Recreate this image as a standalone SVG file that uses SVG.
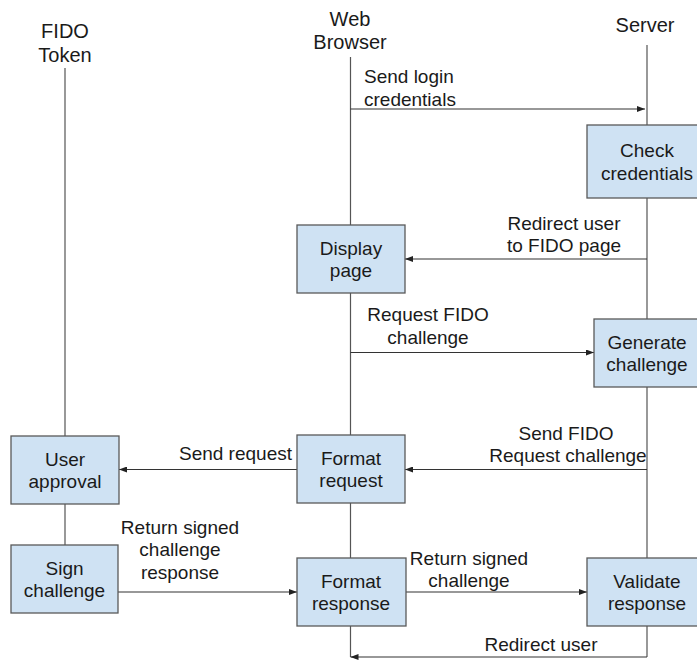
<svg xmlns="http://www.w3.org/2000/svg" width="697" height="662" viewBox="0 0 697 662">
<style>
text{font-family:"Liberation Sans",Arial,sans-serif;font-size:19px;fill:#1a1a1a}
.h{font-size:20px}
.c{text-anchor:middle}
.e{text-anchor:end}
.box{fill:#cfe2f3;stroke:#595959;stroke-width:1.3}
.life{stroke:#555;stroke-width:1.2;fill:none}
.msg{stroke:#333;stroke-width:1.2;fill:none;marker-end:url(#ah)}
</style>
<defs>
<marker id="ah" markerUnits="userSpaceOnUse" markerWidth="8" markerHeight="6" refX="8" refY="3" orient="auto">
<path d="M0,0 L8,3 L0,6 z" fill="#222"/>
</marker>
</defs>
<rect width="697" height="662" fill="#fff"/>
<g id="headers">
<text class="c h" x="65" y="38">FIDO</text>
<text class="c h" x="65" y="62">Token</text>
<text class="c h" x="350" y="26">Web</text>
<text class="c h" x="350" y="49">Browser</text>
<text class="c h" x="645" y="32">Server</text>
</g>
<g id="lifelines">
<path class="life" d="M65,68 V436 M65,504 V545"/>
<path class="life" d="M350.5,57 V225 M350.5,293 V435 M350.5,503 V558 M350.5,626 V657"/>
<path class="life" d="M647,45 V125 M647,198 V319 M647,387 V558 M647,626 V657"/>
</g>
<g id="connectors">
<path class="msg" d="M350.5,109 H645"/>
<text x="364" y="83">Send login</text>
<text x="364" y="105.5">credentials</text>
<path class="msg" d="M647,259 H405"/>
<text class="c" x="564" y="229.5">Redirect user</text>
<text class="c" x="564" y="252">to FIDO page</text>
<path class="msg" d="M350.5,352.5 H594"/>
<text class="c" x="428" y="321">Request FIDO</text>
<text class="c" x="428" y="343.5">challenge</text>
<path class="msg" d="M647,469.5 H405"/>
<text class="c" x="566" y="440">Send FIDO</text>
<text class="c" x="568" y="462">Request challenge</text>
<path class="msg" d="M297,469.5 H119"/>
<text class="e" x="292" y="460">Send request</text>
<path class="msg" d="M118,592 H297"/>
<text class="c" x="180" y="533.5">Return signed</text>
<text class="c" x="180" y="556">challenge</text>
<text class="c" x="180" y="578.5">response</text>
<path class="msg" d="M406,592 H587"/>
<text class="c" x="469" y="565">Return signed</text>
<text class="c" x="469" y="587">challenge</text>
<path class="msg" d="M647,657 H350.5"/>
<text class="c" x="541" y="650.5">Redirect user</text>
</g>
<g id="check-credentials">
<rect class="box" x="587" y="125" width="120" height="73"/>
<text class="c" x="647" y="157">Check</text>
<text class="c" x="647" y="179.5">credentials</text>
</g>
<g id="display-page">
<rect class="box" x="297" y="225" width="108" height="68"/>
<text class="c" x="351" y="254.5">Display</text>
<text class="c" x="351" y="277">page</text>
</g>
<g id="generate-challenge">
<rect class="box" x="594" y="319" width="106" height="68"/>
<text class="c" x="647" y="348.5">Generate</text>
<text class="c" x="647" y="371">challenge</text>
</g>
<g id="format-request">
<rect class="box" x="297" y="435" width="108" height="68"/>
<text class="c" x="351" y="464.5">Format</text>
<text class="c" x="351" y="487">request</text>
</g>
<g id="user-approval">
<rect class="box" x="11" y="436" width="108" height="68"/>
<text class="c" x="65" y="465.5">User</text>
<text class="c" x="65" y="488">approval</text>
</g>
<g id="sign-challenge">
<rect class="box" x="11" y="545" width="107" height="68"/>
<text class="c" x="64.5" y="574.5">Sign</text>
<text class="c" x="64.5" y="597">challenge</text>
</g>
<g id="format-response">
<rect class="box" x="297" y="558" width="109" height="68"/>
<text class="c" x="351" y="587.5">Format</text>
<text class="c" x="351" y="610">response</text>
</g>
<g id="validate-response">
<rect class="box" x="587" y="558" width="120" height="68"/>
<text class="c" x="647" y="587.5">Validate</text>
<text class="c" x="647" y="610">response</text>
</g>
</svg>
